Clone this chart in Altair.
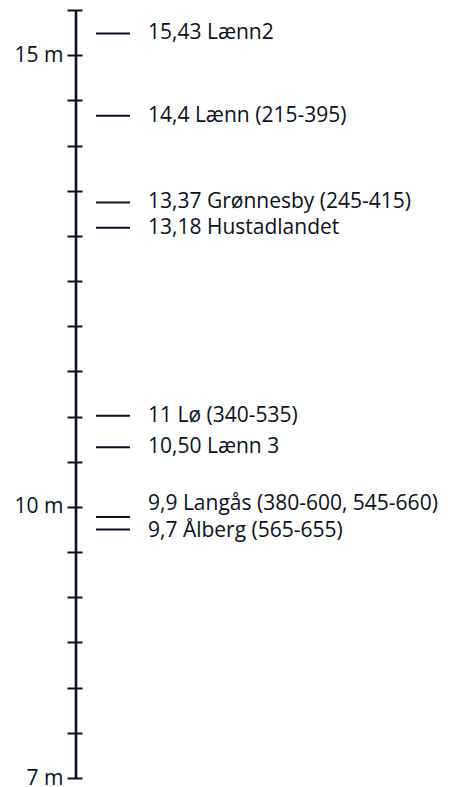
import altair as alt
import pandas as pd

# Data
labels = [
    "15,43 Lænn2",
    "14,4 Lænn (215-395)",
    "13,37 Grønnesby (245-415)",
    "13,18 Hustadlandet",
    "11 Lø (340-535)",
    "10,50 Lænn 3",
    "9,9 Langås (380-600, 545-660)",
    "9,7 Ålberg (565-655)",
]
# level at which each marker dash is drawn (m)
marker_level = [15.24, 14.33, 13.37, 13.09, 11.01, 10.66, 9.89, 9.75]
# level at which each text label is centred (m)
label_level = [15.24, 14.33, 13.37, 13.09, 11.01, 10.66, 10.03, 9.73]

axis_min = 7.0
axis_max = 15.5
tick_values = [7.0 + 0.5 * i for i in range(18)]

df = pd.DataFrame({"label": labels, "level": marker_level, "tlevel": label_level})
axis_df = pd.DataFrame({"lo": [axis_min], "hi": [axis_max]})

FONT = "Open Sans"
INK = "#0e101c"

yscale = alt.Scale(domain=[axis_min, axis_max], nice=False, zero=False)

axis_line = alt.Chart(axis_df).mark_rule(color=INK, strokeWidth=2.6).encode(
    x=alt.value(0),
    y=alt.Y("lo:Q", scale=yscale,
            axis=alt.Axis(
                values=tick_values,
                labelExpr="(datum.value == 7 || datum.value == 10 || datum.value == 15) ? datum.value + ' m' : ''",
                domain=False, grid=False, title=None,
                tickSize=15, offset=-6, tickWidth=2, tickColor=INK,
                labelFont=FONT, labelFontSize=21, labelColor=INK,
                labelPadding=4, labelFlush=False, labelOverlap=False,
            )),
    y2="hi:Q",
)

dashes = alt.Chart(df).mark_rule(color=INK, strokeWidth=2).encode(
    x=alt.value(20), x2=alt.value(54),
    y=alt.Y("level:Q", scale=yscale),
)

texts = alt.Chart(df).mark_text(
    align="left", baseline="middle", font=FONT, fontSize=21, color=INK
).encode(
    x=alt.value(72),
    y=alt.Y("tlevel:Q", scale=yscale),
    text="label:N",
)

chart = alt.layer(axis_line, dashes, texts).properties(
    width=357, height=768,
    padding={"left": 68, "top": 2, "right": 8, "bottom": 9},
    autosize=alt.AutoSizeParams(type="none"),
).configure_view(stroke=None)

chart.save("out.html", embed_options={"renderer": "svg", "actions": False})
